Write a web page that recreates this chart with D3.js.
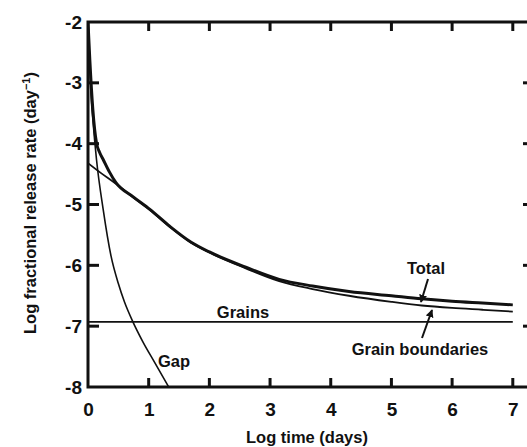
<!DOCTYPE html>
<html>
<head>
<meta charset="utf-8">
<script src="https://cdn.jsdelivr.net/npm/d3@7"></script>
<style>
  body { margin: 0; background: #fff; }
  svg { display: block; font-family: "Liberation Sans", Arial, sans-serif; font-weight: bold; }
  .axis text { font-size: 19px; fill: #111; }
  .axis path { display: none; }
  .lbl { font-size: 16.5px; fill: #111; }
</style>
</head>
<body>
<script>
var swidth = 527,
    sheight = 447;

// log time (days) ticks and log rate ticks
var xTicks = [0, 1, 2, 3, 4, 5, 6, 7];
var yTicks = [-2, -3, -4, -5, -6, -7, -8];

// curves: [log time, log rate]
var totalCurve = [[0, -2.0], [0.03, -2.62], [0.08, -3.44], [0.14, -3.99], [0.19, -4.14], [0.25, -4.26],
  [0.35, -4.46], [0.46, -4.64], [0.74, -4.87], [1.02, -5.08], [1.35, -5.36], [1.7, -5.62], [2.0, -5.78],
  [2.6, -6.03], [3.15, -6.23], [3.7, -6.34], [4.3, -6.43], [5.0, -6.5], [5.5, -6.55], [6.0, -6.59],
  [6.5, -6.62], [7.0, -6.65]];

var boundaryCurve = [[0, -4.32], [0.21, -4.48], [0.46, -4.66], [0.74, -4.88], [1.02, -5.09], [1.35, -5.37],
  [1.7, -5.63], [2.0, -5.79], [2.6, -6.05], [3.15, -6.26], [3.7, -6.39], [4.3, -6.5], [5.0, -6.6],
  [5.5, -6.66], [6.0, -6.7], [6.5, -6.73], [7.0, -6.76]];

var gapCurve = [[0, -2.0], [0.03, -2.7], [0.05, -3.2], [0.08, -3.6], [0.14, -4.26], [0.25, -5.08],
  [0.38, -5.85], [0.5, -6.3], [0.6, -6.6], [0.74, -6.93], [0.9, -7.25], [1.1, -7.6], [1.33, -8.0]];

var grainsCurve = [[0, -6.93], [7.0, -6.93]];

var svg = d3.select("body").append("svg")
    .attr("width", swidth)
    .attr("height", sheight);

var x = d3.scaleLinear().domain([0, 7.3]).range([88, 531]);
var y = d3.scaleLinear().domain([-8, -2]).range([387, 22]);

svg.append("defs").append("marker")
    .attr("id", "arrow")
    .attr("viewBox", "0 0 10 10")
    .attr("refX", 9).attr("refY", 5)
    .attr("markerWidth", 4).attr("markerHeight", 4)
    .attr("markerUnits", "strokeWidth")
    .attr("orient", "auto")
  .append("path")
    .attr("d", "M0,0L10,5L0,10z")
    .attr("fill", "#111");

svg.append("clipPath").attr("id", "plot")
  .append("rect")
    .attr("x", x(0)).attr("y", y(-2))
    .attr("width", x(7.3) - x(0)).attr("height", y(-8) - y(-2));

// tick labels from the axes, tick marks drawn inward by hand
svg.append("g").attr("class", "axis")
    .attr("transform", "translate(0," + y(-8) + ")")
    .call(d3.axisBottom(x).tickValues(xTicks).tickSize(0).tickPadding(16)
      .tickFormat(function(d) { return String(d); }));

svg.append("g").attr("class", "axis")
    .attr("transform", "translate(" + x(0) + ",0)")
    .call(d3.axisLeft(y).tickValues(yTicks).tickSize(0).tickPadding(6)
      .tickFormat(function(d) { return String(d); }));

var ticks = svg.append("g").attr("stroke", "#111").attr("stroke-width", 3);
ticks.selectAll(".tb").data(xTicks.slice(1)).enter().append("line")
    .attr("x1", function(d) { return x(d); }).attr("x2", function(d) { return x(d); })
    .attr("y1", y(-8)).attr("y2", y(-8) - 9);
ticks.selectAll(".tt").data(xTicks.slice(1)).enter().append("line")
    .attr("x1", function(d) { return x(d); }).attr("x2", function(d) { return x(d); })
    .attr("y1", y(-2)).attr("y2", y(-2) + 9);
ticks.selectAll(".tl").data(yTicks.slice(1, 6)).enter().append("line")
    .attr("y1", function(d) { return y(d); }).attr("y2", function(d) { return y(d); })
    .attr("x1", x(0)).attr("x2", x(0) + 11);
ticks.selectAll(".tr").data(yTicks.slice(1, 6)).enter().append("line")
    .attr("y1", function(d) { return y(d); }).attr("y2", function(d) { return y(d); })
    .attr("x1", x(7.3)).attr("x2", x(7.3) - 8);

svg.append("rect")
    .attr("x", x(0)).attr("y", y(-2))
    .attr("width", x(7.3) - x(0)).attr("height", y(-8) - y(-2))
    .attr("fill", "none").attr("stroke", "#111").attr("stroke-width", 3);

var line = d3.line()
    .x(function(d) { return x(d[0]); })
    .y(function(d) { return y(d[1]); })
    .curve(d3.curveMonotoneX);

var curves = svg.append("g").attr("clip-path", "url(#plot)").attr("fill", "none").attr("stroke", "#111");
curves.append("path").datum(grainsCurve).attr("d", line).attr("stroke-width", 1.6);
curves.append("path").datum(gapCurve).attr("d", line).attr("stroke-width", 1.6);
curves.append("path").datum(boundaryCurve).attr("d", line).attr("stroke-width", 1.8);
curves.append("path").datum(totalCurve).attr("d", line).attr("stroke-width", 3);

// labels
svg.append("text").attr("class", "lbl").attr("x", 426).attr("y", 274).attr("text-anchor", "middle").text("Total");
svg.append("text").attr("class", "lbl").attr("x", 243).attr("y", 318).attr("text-anchor", "middle").text("Grains");
svg.append("text").attr("class", "lbl").attr("x", 420).attr("y", 355).attr("text-anchor", "middle").text("Grain boundaries");
svg.append("text").attr("class", "lbl").attr("x", 174).attr("y", 367).attr("text-anchor", "middle").text("Gap");

svg.append("line")
    .attr("x1", 428).attr("y1", 279).attr("x2", 421).attr("y2", 302)
    .attr("stroke", "#111").attr("stroke-width", 2).attr("marker-end", "url(#arrow)");
svg.append("line")
    .attr("x1", 422).attr("y1", 338).attr("x2", 432).attr("y2", 310)
    .attr("stroke", "#111").attr("stroke-width", 2).attr("marker-end", "url(#arrow)");

svg.append("text")
    .attr("class", "lbl")
    .attr("x", 307).attr("y", 443)
    .attr("text-anchor", "middle")
    .text("Log time (days)");

svg.append("text")
    .attr("class", "lbl")
    .attr("transform", "translate(36,203) rotate(-90)")
    .attr("text-anchor", "middle")
    .html("Log fractional release rate (day<tspan dy='-6' font-size='11'>−1</tspan><tspan dy='6'>)</tspan>");
</script>
</body>
</html>
